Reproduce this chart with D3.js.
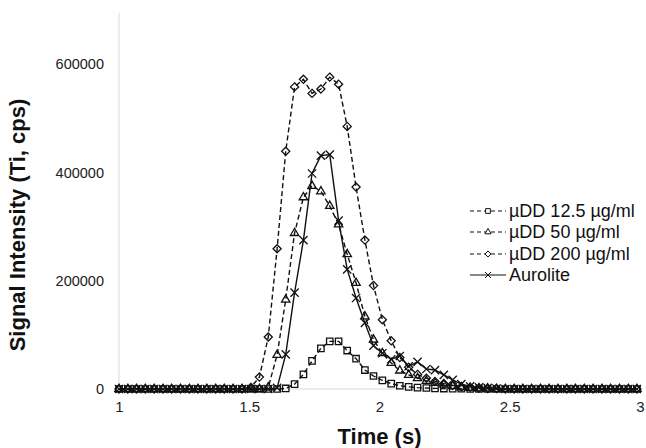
<!DOCTYPE html>
<html>
<head>
<meta charset="utf-8">
<script src="https://cdn.jsdelivr.net/npm/d3@7"></script>
<style>
  body { margin: 0; background: #fff; }
  svg { font-family: "Liberation Sans", Arial, sans-serif; }
</style>
</head>
<body>
<div id="chart"></div>
<script>
// Time points (s), shared by all series
var times = [1.000, 1.034, 1.067, 1.101, 1.135, 1.169, 1.202, 1.236, 1.270, 1.303,
             1.337, 1.371, 1.404, 1.438, 1.472, 1.506, 1.539, 1.573, 1.607, 1.640,
             1.674, 1.708, 1.741, 1.775, 1.809, 1.843, 1.876, 1.910, 1.944, 1.977,
             2.011, 2.045, 2.078, 2.112, 2.146, 2.180, 2.213, 2.247, 2.281, 2.314,
             2.348, 2.382, 2.415, 2.449, 2.483, 2.517, 2.550, 2.584, 2.618, 2.651,
             2.685, 2.719, 2.752, 2.786, 2.820, 2.854, 2.887, 2.921, 2.955, 2.988];

var udd125 = [0, 0, 0, 0, 0, 0, 0, 0, 0, 0,
              0, 0, 0, 0, 0, 0, 0, 0, 0, 1000,
              9000, 27000, 52000, 75000, 88000, 88000, 71000, 56000, 35000, 24000,
              16000, 10000, 6000, 4000, 2500, 1800, 1200, 800, 500, 500,
              0, 0, 0, 0, 0, 0, 0, 0, 0, 0,
              0, 0, 0, 0, 0, 0, 0, 0, 0, 0];

var udd50 = [0, 0, 0, 0, 0, 0, 0, 0, 0, 0,
             0, 0, 0, 0, 0, 0, 0, 3000, 63000, 165000,
             288000, 354000, 375000, 365000, 338000, 304000, 249000, 196000, 134000, 91000,
             66000, 48000, 34000, 26000, 20000, 15000, 11000, 8000, 5000, 3000,
             2000, 1000, 1000, 0, 0, 0, 0, 0, 0, 0,
             0, 0, 0, 0, 0, 0, 0, 0, 0, 0];

var udd200 = [0, 0, 0, 0, 0, 0, 0, 0, 0, 0,
              0, 0, 0, 0, 0, 3000, 22000, 96000, 259000, 439000,
              558000, 572000, 546000, 554000, 576000, 563000, 485000, 373000, 275000, 191000,
              128000, 89000, 58000, 40000, 27000, 20000, 14000, 10000, 7000, 4000,
              3000, 2000, 1000, 1000, 0, 0, 0, 0, 0, 0,
              0, 0, 0, 0, 0, 0, 0, 0, 0, 0];

var aurolite = [0, 0, 0, 0, 0, 0, 0, 0, 0, 0,
                0, 0, 0, 0, 0, 0, 0, 0, 2000, 64000,
                178000, 275000, 398000, 431000, 433000, 311000, 221000, 168000, 122000, 80000,
                66000, 55000, 61000, 42000, 50000, 37000, 35000, 26000, 17000, 9000,
                5000, 3000, 2000, 1000, 0, 0, 0, 0, 0, 0,
                0, 0, 0, 0, 0, 0, 0, 0, 0, 0];

var seriesNames = ["\u00b5DD 12.5 \u00b5g/ml", "\u00b5DD 50 \u00b5g/ml", "\u00b5DD 200 \u00b5g/ml", "Aurolite"];
var seriesValues = [udd125, udd50, udd200, aurolite];
var xTicks = [1, 1.5, 2, 2.5, 3];
var yTicks = [0, 200000, 400000, 600000];

var width = 646, height = 448;
var margin = {left: 119, right: 6, top: 10, bottom: 59};

var svg = d3.select('#chart').append('svg')
	.attr('width', width)
	.attr('height', height);

var x = d3.scaleLinear().domain([1, 3]).range([margin.left, width - margin.right]);
var y = d3.scaleLinear().domain([0, 700000]).range([height - margin.bottom, margin.top]);

// marker + dash styles per series
var symbols = [d3.symbolSquare2, d3.symbolTriangle2, d3.symbolDiamond2, d3.symbolTimes];
var symSizes = [52, 50, 42, 46];
var dashes = ['5,3', '5,3', '5,3', null];

// axes lines (light grey, no ticks)
svg.append('line')
	.attr('x1', x(1)).attr('x2', x(3))
	.attr('y1', y(0)).attr('y2', y(0))
	.attr('stroke', '#d9d9d9').attr('stroke-width', 1);
svg.append('line')
	.attr('x1', x(1)).attr('x2', x(1))
	.attr('y1', y(0)).attr('y2', y(695000))
	.attr('stroke', '#d9d9d9').attr('stroke-width', 1);

var xAxis = d3.axisBottom(x).tickValues(xTicks).tickSize(0).tickPadding(12)
	.tickFormat(function(d) { return d; });
var gx = svg.append('g')
	.attr('transform', 'translate(0,' + y(0) + ')')
	.call(xAxis);
gx.select('.domain').remove();
gx.selectAll('text').attr('font-size', 15).attr('fill', '#222').attr('font-family', null);

var yAxis = d3.axisLeft(y).tickValues(yTicks).tickSize(0).tickPadding(15)
	.tickFormat(function(d) { return d; });
var gy = svg.append('g')
	.attr('transform', 'translate(' + x(1) + ',0)')
	.call(yAxis);
gy.select('.domain').remove();
gy.selectAll('text').attr('font-size', 14.5).attr('fill', '#222').attr('font-family', null);

// axis titles
svg.append('text')
	.attr('x', (x(1) + x(3)) / 2)
	.attr('y', 444)
	.attr('text-anchor', 'middle')
	.attr('font-size', 22)
	.attr('font-weight', 'bold')
	.attr('fill', '#111')
	.text('Time (s)');

svg.append('text')
	.attr('transform', 'translate(25,' + 225 + ') rotate(-90)')
	.attr('text-anchor', 'middle')
	.attr('font-size', 22)
	.attr('font-weight', 'bold')
	.attr('fill', '#111')
	.text('Signal Intensity (Ti, cps)');

var line = d3.line()
	.x(function(d) { return x(d[0]); })
	.y(function(d) { return y(d[1]); });

// draw series
for (let i = 0; i < seriesValues.length; i++) {
	let pts = times.map(function(t, j) { return [t, seriesValues[i][j]]; });
	let g = svg.append('g');
	g.append('path')
		.datum(pts)
		.attr('d', line)
		.attr('fill', 'none')
		.attr('stroke', '#111')
		.attr('stroke-width', 1.4)
		.attr('stroke-dasharray', dashes[i]);
	g.selectAll('path.mk')
		.data(pts)
		.enter()
		.append('path')
		.classed('mk', true)
		.attr('transform', function(d) { return 'translate(' + x(d[0]) + ',' + y(d[1]) + ')'; })
		.attr('d', d3.symbol().type(symbols[i]).size(symSizes[i]))
		.attr('fill', 'none')
		.attr('stroke', '#111')
		.attr('stroke-width', 1.3);
}

// legend
var legY = [211, 232, 254, 275];
var leg = svg.append('g');
for (let i = 0; i < seriesNames.length; i++) {
	leg.append('line')
		.attr('x1', 470).attr('x2', 506)
		.attr('y1', legY[i]).attr('y2', legY[i])
		.attr('stroke', '#111')
		.attr('stroke-width', 1.2)
		.attr('stroke-dasharray', dashes[i] ? '4,3' : null);
	leg.append('path')
		.attr('transform', 'translate(488,' + legY[i] + ')')
		.attr('d', d3.symbol().type(symbols[i]).size(symSizes[i] * 0.55))
		.attr('fill', '#fff')
		.attr('stroke', '#111')
		.attr('stroke-width', 1);
	leg.append('text')
		.attr('x', 509)
		.attr('y', legY[i])
		.attr('dy', '0.35em')
		.attr('font-size', 18)
		.attr('fill', '#111')
		.text(seriesNames[i]);
}
</script>
</body>
</html>
